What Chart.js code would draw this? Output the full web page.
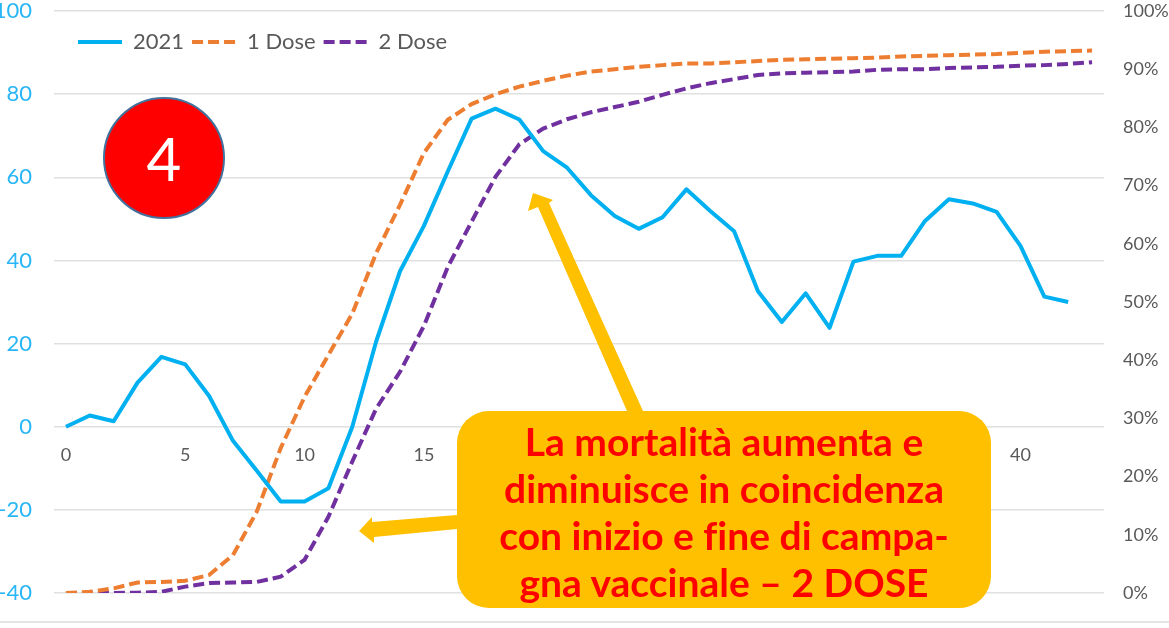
<!DOCTYPE html>
<html><head><meta charset="utf-8">
<script src="https://cdn.jsdelivr.net/npm/chart.js@4"></script>
<style>
html,body{margin:0;padding:0;background:#fff;overflow:hidden}
#wrap{position:relative;width:1169px;height:628px;overflow:hidden;font-family:Lato,sans-serif}
canvas{position:absolute;left:0;top:0}
#rule{position:absolute;left:0;right:0;top:621px;height:2px;background:#e4e4e4}
#badge{position:absolute;left:103px;top:97px;width:118px;height:118px;border-radius:50%;background:#f00;border:2px solid #41719c;color:#fff;font-size:60px;line-height:118px;text-align:center}
#call{position:absolute;left:457px;top:411px;width:534px;height:197px;border-radius:32px;background:#ffc000;color:#f00;font-weight:700;font-size:39px;line-height:47px;text-align:center;padding-top:7px;box-sizing:border-box;white-space:nowrap;font-variant-ligatures:none}
svg{position:absolute;left:0;top:0}
</style></head><body>
<div id="wrap">
<canvas id="c" width="1169" height="628"></canvas>
<div id="rule"></div>
<svg width="1169" height="628"><polygon fill="#ffc000" points="533,193 553,200 549,203 643,411 627,411 538,207 528,211"/><polygon fill="#ffc000" points="359,531 372,517 372,522 457,515 457,529 374,537 374,543"/></svg>
<div id="badge">4</div>
<div id="call">La mortalità aumenta e<br>diminuisce in coincidenza<br>con inizio e fine di campa-<br>gna vaccinale – 2 DOSE</div>
</div>
<script>
const categories = [0,1,2,3,4,5,6,7,8,9,10,11,12,13,14,15,16,17,18,19,20,21,22,23,24,25,26,27,28,29,30,31,32,33,34,35,36,37,38,39,40,41,42,43];
const mortality2021 = [0,2.7,1.3,10.6,16.8,15,7.4,-3.4,-10.6,-18,-18,-14.8,0,20.5,37.4,48.3,61.4,74.1,76.5,73.9,66.3,62.3,55.7,50.7,47.6,50.4,57.1,51.9,47,32.6,25.2,32.1,23.8,39.7,41.1,41.1,49.5,54.7,53.7,51.7,43.5,31.3,30,null];
const dose1 = [0,0.2,0.8,1.8,1.9,2.1,3.1,6.5,14,24.9,33.7,40.9,48,58.4,66.7,75.6,81.3,84,85.7,87,88,88.9,89.6,90,90.4,90.7,91,91,91.2,91.4,91.6,91.7,91.8,91.9,92,92.2,92.3,92.4,92.5,92.6,92.8,93,93.1,93.2];
const dose2 = [0,0,0,0.05,0.2,1.1,1.7,1.8,1.9,2.8,5.7,13.1,22.6,31.7,38,45.9,56,63.8,71.5,77.1,79.8,81.4,82.6,83.5,84.4,85.6,86.7,87.6,88.3,89,89.3,89.4,89.5,89.6,89.9,90,90,90.2,90.3,90.4,90.6,90.7,90.9,91.2];
const seriesNames = ['2021','1 Dose','2 Dose'];
const seriesColors = ['#00b0f0','#ed7d31','#7030a0'];

const FONT = 'Lato';
const legendPlacer = {
  id:'legendPlacer',
  beforeLayout(chart){
    const l = chart.legend;
    if(!l._wrapped){
      const f = l.fit;
      l.fit = function(){ f.call(this); this._w = this.width; this._h = this.height; this.height = 0; };
      l._wrapped = true;
    }
  },
  afterLayout(chart){
    const l = chart.legend;
    l.left = 70; l.right = 70 + l._w + 30; l.width = l._w + 30;
    l.top = 23; l.bottom = 23 + l._h; l.height = l._h;
  }
};

new Chart(document.getElementById('c'),{
  type:'line',
  data:{labels:categories,datasets:[
    {label:seriesNames[0],data:mortality2021,yAxisID:'y',borderColor:seriesColors[0],backgroundColor:seriesColors[0],borderWidth:4,pointRadius:0,tension:0,borderJoinStyle:'round'},
    {label:seriesNames[1],data:dose1,yAxisID:'y1',borderColor:seriesColors[1],backgroundColor:seriesColors[1],borderWidth:4,borderDash:[11,5],pointRadius:0,tension:0},
    {label:seriesNames[2],data:dose2,yAxisID:'y1',borderColor:seriesColors[2],backgroundColor:seriesColors[2],borderWidth:4,borderDash:[11,5],pointRadius:0,tension:0}
  ]},
  plugins:[legendPlacer],
  options:{
    responsive:false,animation:false,
    layout:{padding:{top:11,bottom:35,left:0,right:0}},
    plugins:{
      tooltip:{enabled:false},
      legend:{display:true,position:'top',align:'start',
        labels:{usePointStyle:true,pointStyle:'line',pointStyleWidth:44,padding:8,color:'#595959',font:{family:FONT,size:22},
          generateLabels(chart){
            return Chart.defaults.plugins.legend.labels.generateLabels(chart).map((it,i)=>{
              const d = chart.data.datasets[i];
              it.lineDash = d.borderDash || [];
              it.lineWidth = d.borderWidth;
              it.strokeStyle = d.borderColor;
              return it;
            });
          }}}
    },
    scales:{
      x:{type:'category',offset:true,position:{y:0},
        grid:{display:false},border:{display:false},
        ticks:{autoSkip:false,maxRotation:0,minRotation:0,padding:10,color:'#595959',font:{family:FONT,size:18},
          callback(v,i){return categories[i]%5===0?String(categories[i]):'';}}},
      y:{position:'left',min:-40,max:100,
        afterFit(s){s.width=54;s.paddingTop=0;s.paddingBottom=0;},
        grid:{color:'#e0e0e0',lineWidth:1.5,drawTicks:false},border:{display:false},
        ticks:{stepSize:20,padding:22,color:'#29b6f6',font:{family:FONT,size:22}}},
      y1:{position:'right',min:0,max:100,
        afterFit(s){s.width=65;s.paddingTop=0;s.paddingBottom=0;},
        grid:{display:false},border:{display:false},
        ticks:{stepSize:10,padding:11,color:'#595959',font:{family:FONT,size:18},callback(v){return v+'%';}}}
    }
  }
});
</script>
</body></html>
